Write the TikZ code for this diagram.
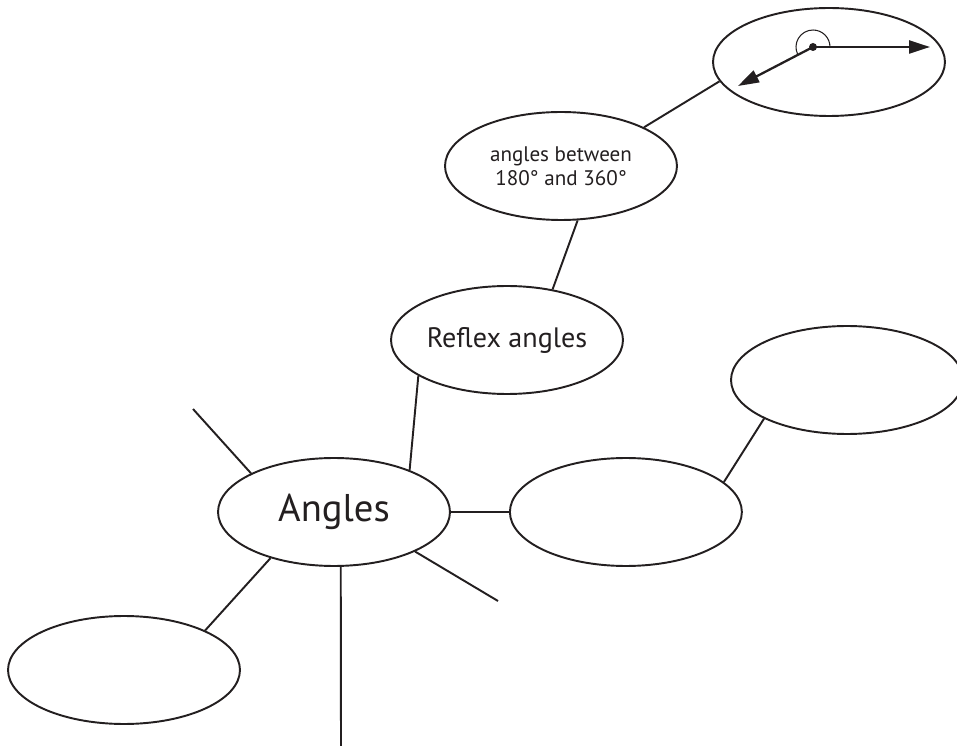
\documentclass[tikz,border=0pt]{standalone}
\usepackage{fontspec}
\setmainfont{PT Sans}
\usepackage{tikz}
\usetikzlibrary{shapes.geometric, arrows.meta, positioning}
\definecolor{ink}{HTML}{231F20}

\begin{document}
\begin{tikzpicture}[
    x=0.02cm, y=0.02cm,
    bubble/.style={
        ellipse, draw=ink, line width=1.1pt,
        minimum width=4.64cm, minimum height=2.16cm,
        inner sep=0pt, align=center, text=ink
    },
    link/.style={draw=ink, line width=1.1pt},
    ray/.style={-{Triangle[length=0.42cm, width=0.26cm]}, draw=ink, line width=1.3pt}
]
\useasboundingbox (0,0) rectangle (957,-746);

% ── Centre ──
\node[bubble, font=\fontsize{22}{26}\selectfont] (angles) at (334,-512) {Angles};

% ── Reflex branch ──
\node[bubble, font=\fontsize{16}{19}\selectfont] (reflex) at (507,-340) {Reflex angles};
\node[bubble, font=\fontsize{12}{13.6}\selectfont] (between) at (561,-166) {angles between\\180° and 360°};
\node[bubble] (clock) at (829,-62) {};

% ── Empty bubbles ──
\node[bubble, right=1.16cm of angles] (mid) {};
\node[bubble] (far) at (847,-380) {};
\node[bubble] (low) at (124,-670) {};

% ── Free ends ──
\coordinate (ulend) at (193,-409);
\coordinate (lrend) at (498,-601);
\coordinate (downend) at (341,-746);

\draw[link] (angles.29) -- (reflex.202.8);
\draw[link] (reflex.48.6) -- (between.287.2);
\draw[link] (between.25.7) -- (clock.190.3);
\draw[link] (angles.0) -- (mid.180);
\draw[link] (mid.17) -- (far.205.4);
\draw[link] (angles.216.6) -- (low.26.9);
\draw[link] (angles.155.7) -- (ulend);
\draw[link] (angles.334.3) -- (lrend);
\draw[link] (angles.277) -- (downend);

% ── Reflex angle sketch ──
\coordinate (vertex) at (813,-47);
\coordinate (tipE) at (930,-47);
\coordinate (tipSW) at (738,-86);
\draw[ink, line width=0.6pt] (vertex) ++(0.34cm,0) arc[start angle=0, end angle=205, radius=0.34cm];
\draw[ray] (vertex) -- (tipE);
\draw[ray] (vertex) -- (tipSW);
\fill[ink] (vertex) circle[radius=0.08cm];

\end{tikzpicture}
\end{document}
